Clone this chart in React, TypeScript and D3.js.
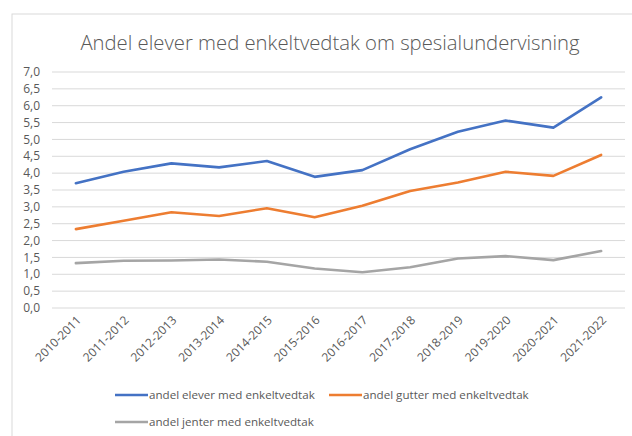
import React from "react";
import * as d3 from "d3";

const categories = [
  "2010-2011", "2011-2012", "2012-2013", "2013-2014", "2014-2015", "2015-2016",
  "2016-2017", "2017-2018", "2018-2019", "2019-2020", "2020-2021", "2021-2022",
];
const elever = [3.70, 4.04, 4.29, 4.17, 4.36, 3.89, 4.09, 4.71, 5.23, 5.56, 5.35, 6.25];
const gutter = [2.34, 2.59, 2.84, 2.73, 2.96, 2.69, 3.03, 3.47, 3.72, 4.04, 3.92, 4.54];
const jenter = [1.33, 1.40, 1.41, 1.44, 1.37, 1.17, 1.06, 1.21, 1.47, 1.54, 1.42, 1.69];
const yTicks = [0, 0.5, 1, 1.5, 2, 2.5, 3, 3.5, 4, 4.5, 5, 5.5, 6, 6.5, 7];
const seriesNames = [
  "andel elever med enkeltvedtak",
  "andel gutter med enkeltvedtak",
  "andel jenter med enkeltvedtak",
];
const colors = ["#4472C4", "#ED7D31", "#A5A5A5"];

export default function App() {
  const W = 632, H = 436;
  const left = 52, right = 625, top = 72, bottom = 308;
  const x = d3.scaleBand<string>().domain(categories).range([left, right]);
  const y = d3.scaleLinear().domain([0, 7]).range([bottom, top]);
  const line = d3
    .line<number>()
    .x((_, i) => (x(categories[i]) as number) + x.bandwidth() / 2)
    .y((d) => y(d));
  const all = [elever, gutter, jenter];
  const font = "'Open Sans', sans-serif";
  const textColor = "#595959";
  const legendItems = [
    { lx: 115, ly: 395 },
    { lx: 329, ly: 395 },
    { lx: 115, ly: 422 },
  ];
  return (
    <svg
      width={W}
      height={H}
      style={{ position: "absolute", left: 0, top: 0, background: "#fff" }}
    >
      <rect x={0} y={0} width={W} height={H} fill="#fff" />
      <rect x={12} y={14} width={W + 10} height={H + 10} fill="none" stroke="#d9d9d9" strokeWidth={1} />
      <text
        x={330}
        y={50}
        textAnchor="middle"
        fontFamily={font}
        fontSize={20.3}
        fontWeight={300}
        fill={textColor}
      >
        Andel elever med enkeltvedtak om spesialundervisning
      </text>
      {yTicks.map((t) => (
        <g key={t}>
          <line x1={left} x2={right} y1={y(t)} y2={y(t)} stroke="#d9d9d9" strokeWidth={1} />
          <text
            x={40}
            y={y(t)}
            dy="0.35em"
            textAnchor="end"
            fontFamily={font}
            fontSize={12}
            fill={textColor}
          >
            {t.toFixed(1).replace(".", ",")}
          </text>
        </g>
      ))}
      {categories.map((c) => {
        const cx = (x(c) as number) + x.bandwidth() / 2 + 3;
        const cy = 318;
        return (
          <text
            key={c}
            transform={`translate(${cx},${cy}) rotate(-45)`}
            textAnchor="end"
            fontFamily={font}
            fontSize={12}
            fill={textColor}
            dy="0.35em"
          >
            {c}
          </text>
        );
      })}
      {all.map((s, i) => (
        <path
          key={i}
          d={line(s) as string}
          fill="none"
          stroke={colors[i]}
          strokeWidth={2.6}
          strokeLinejoin="round"
          strokeLinecap="round"
        />
      ))}
      {legendItems.map((l, i) => (
        <g key={i}>
          <line x1={l.lx} x2={l.lx + 33} y1={l.ly} y2={l.ly} stroke={colors[i]} strokeWidth={2.6} />
          <text
            x={l.lx + 34}
            y={l.ly}
            dy="0.35em"
            fontFamily={font}
            fontSize={11.6}
            fill={textColor}
          >
            {seriesNames[i]}
          </text>
        </g>
      ))}
    </svg>
  );
}
